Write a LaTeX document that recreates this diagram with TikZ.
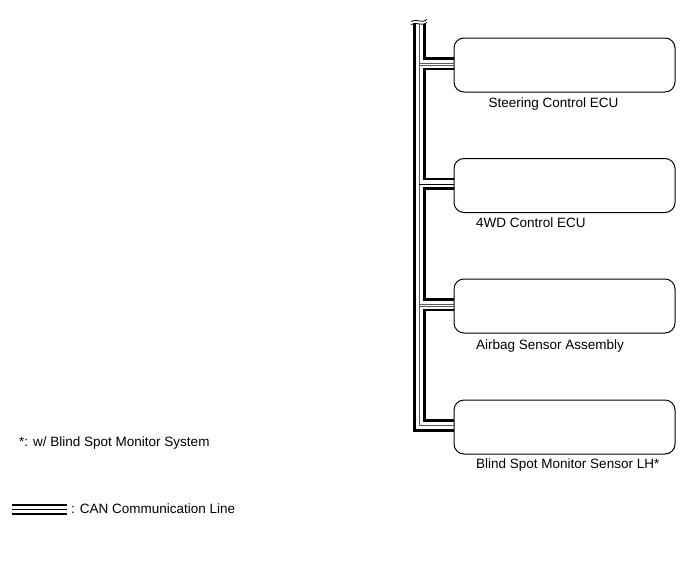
\documentclass[tikz,border=0pt]{standalone}
\usepackage{fontspec}
\setmainfont{Liberation Sans}
\tikzset{
  ecu/.style={draw=black,line width=1pt,rounded corners=10pt,minimum width=221pt,minimum height=54pt,inner sep=0pt,outer sep=0pt},
  lbl/.style={font=\fontsize{13.5}{15}\selectfont,inner sep=0pt,anchor=base west,text=black},
  hi/.style={line width=2.5pt,black,line join=miter},
  lo/.style={line width=1pt,black!65,line join=miter},
}
\begin{document}
\begin{tikzpicture}[x=1pt,y=-1pt]
\useasboundingbox (0,0) rectangle (690,562);
\node[ecu] (a) at (564.5,65) {};
\node[ecu] (b) at (564.5,185.5) {};
\node[ecu] (c) at (564.5,306) {};
\node[ecu] (d) at (564.5,427) {};
\node[lbl] (la) at (488.5,107.5) {Steering Control ECU};
\node[lbl] (lb) at (476,227.5) {4WD Control ECU};
\node[lbl] (lc) at (476,349.5) {Airbag Sensor Assembly};
\node[lbl] (ld) at (476,468.5) {Blind Spot Monitor Sensor LH*};
\node[lbl] (n1) at (19,446.5) {*: w/ Blind Spot Monitor System};
\node[lbl] (n2) at (71,513.5) {: CAN Communication Line};
\coordinate (t1) at (414.6,24);
\coordinate (t2) at (419.3,24);
\coordinate (t3) at (424.4,24);
% outer line
\draw[hi] (t1) |- (d.west |- 0,430.5);
% middle thin line
\draw[lo] (t2) |- (d.west |- 0,425.5);
% inner segments
\draw[hi] (t3) |- (a.west |- 0,58.5);
\draw[lo] (a.west |- 0,63) -- (t2 |- 0,63);
\draw[lo] (a.west |- 0,65.5) -- (t2 |- 0,65.5);
\draw[hi] (a.west |- 0,69) -| (t3 |- 0,179) -- (b.west |- 0,179);
\draw[black,line width=1pt] (b.west |- 0,184) -- (t2 |- 0,184);
\draw[hi] (b.west |- 0,188.5) -| (t3 |- 0,299.5) -- (c.west |- 0,299.5);
\draw[lo] (c.west |- 0,304.3) -- (t2 |- 0,304.3);
\draw[lo] (c.west |- 0,306.5) -- (t2 |- 0,306.5);
\draw[hi] (c.west |- 0,310) -| (t3 |- 0,420.5) -- (d.west |- 0,420.5);
% break mark
\coordinate (w1) at (411,24.5);
\coordinate (w2) at (427,22.5);
\draw[black,line width=.8pt] (w1) .. controls (416,21) and (421,27) .. (w2);
\draw[black,line width=.8pt] ([yshift=3pt]w1) .. controls (416,18) and (421,24) .. ([yshift=3pt]w2);
% legend
\coordinate (k1) at (12,505.3);
\coordinate (k2) at (67,505.3);
\draw[black,line width=2.2pt] (k1) -- (k2);
\draw[black,line width=1.1pt] ([yshift=-4.5pt]k1) -- ([yshift=-4.5pt]k2);
\draw[black,line width=2.2pt] ([yshift=-9pt]k1) -- ([yshift=-9pt]k2);
\end{tikzpicture}
\end{document}
